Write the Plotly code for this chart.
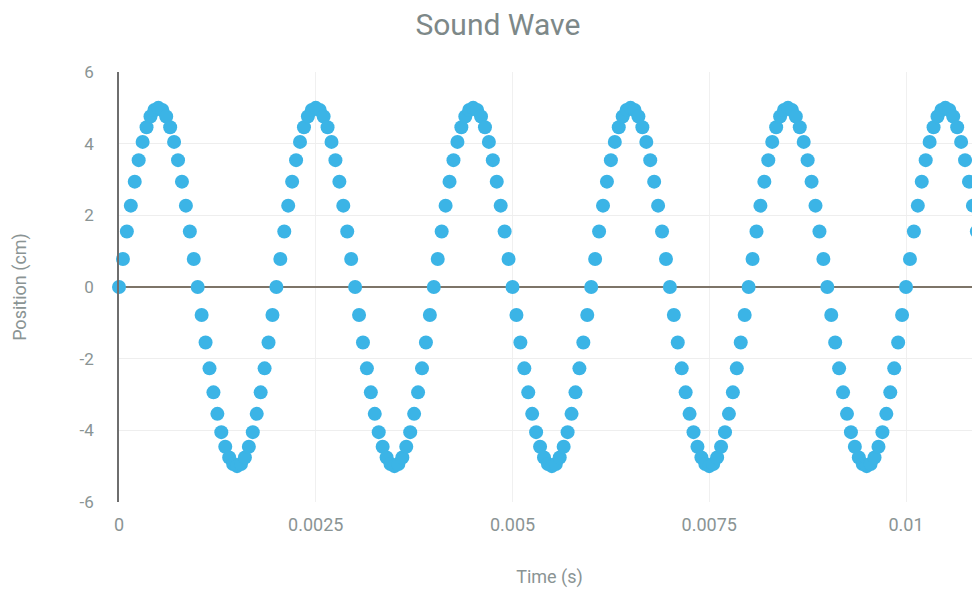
import plotly.graph_objects as go

# Time in milliseconds (sampled every 0.05 ms), converted to seconds below
time_ms = [
    0.00, 0.05, 0.10, 0.15, 0.20, 0.25, 0.30, 0.35, 0.40, 0.45, 0.50, 0.55, 0.60, 0.65, 0.70, 0.75, 0.80, 0.85, 0.90, 0.95,
    1.00, 1.05, 1.10, 1.15, 1.20, 1.25, 1.30, 1.35, 1.40, 1.45, 1.50, 1.55, 1.60, 1.65, 1.70, 1.75, 1.80, 1.85, 1.90, 1.95,
    2.00, 2.05, 2.10, 2.15, 2.20, 2.25, 2.30, 2.35, 2.40, 2.45, 2.50, 2.55, 2.60, 2.65, 2.70, 2.75, 2.80, 2.85, 2.90, 2.95,
    3.00, 3.05, 3.10, 3.15, 3.20, 3.25, 3.30, 3.35, 3.40, 3.45, 3.50, 3.55, 3.60, 3.65, 3.70, 3.75, 3.80, 3.85, 3.90, 3.95,
    4.00, 4.05, 4.10, 4.15, 4.20, 4.25, 4.30, 4.35, 4.40, 4.45, 4.50, 4.55, 4.60, 4.65, 4.70, 4.75, 4.80, 4.85, 4.90, 4.95,
    5.00, 5.05, 5.10, 5.15, 5.20, 5.25, 5.30, 5.35, 5.40, 5.45, 5.50, 5.55, 5.60, 5.65, 5.70, 5.75, 5.80, 5.85, 5.90, 5.95,
    6.00, 6.05, 6.10, 6.15, 6.20, 6.25, 6.30, 6.35, 6.40, 6.45, 6.50, 6.55, 6.60, 6.65, 6.70, 6.75, 6.80, 6.85, 6.90, 6.95,
    7.00, 7.05, 7.10, 7.15, 7.20, 7.25, 7.30, 7.35, 7.40, 7.45, 7.50, 7.55, 7.60, 7.65, 7.70, 7.75, 7.80, 7.85, 7.90, 7.95,
    8.00, 8.05, 8.10, 8.15, 8.20, 8.25, 8.30, 8.35, 8.40, 8.45, 8.50, 8.55, 8.60, 8.65, 8.70, 8.75, 8.80, 8.85, 8.90, 8.95,
    9.00, 9.05, 9.10, 9.15, 9.20, 9.25, 9.30, 9.35, 9.40, 9.45, 9.50, 9.55, 9.60, 9.65, 9.70, 9.75, 9.80, 9.85, 9.90, 9.95,
    10.00, 10.05, 10.10, 10.15, 10.20, 10.25, 10.30, 10.35, 10.40, 10.45, 10.50, 10.55, 10.60, 10.65, 10.70, 10.75, 10.80, 10.85, 10.90,
]

# Position (cm)
position_cm = [
    0, 0.78, 1.55, 2.27, 2.94, 3.54, 4.05, 4.46, 4.76, 4.94, 5, 4.94, 4.76, 4.46, 4.05, 3.54, 2.94, 2.27, 1.55, 0.78,
    0, -0.78, -1.55, -2.27, -2.94, -3.54, -4.05, -4.46, -4.76, -4.94, -5, -4.94, -4.76, -4.46, -4.05, -3.54, -2.94, -2.27, -1.55, -0.78,
    0, 0.78, 1.55, 2.27, 2.94, 3.54, 4.05, 4.46, 4.76, 4.94, 5, 4.94, 4.76, 4.46, 4.05, 3.54, 2.94, 2.27, 1.55, 0.78,
    0, -0.78, -1.55, -2.27, -2.94, -3.54, -4.05, -4.46, -4.76, -4.94, -5, -4.94, -4.76, -4.46, -4.05, -3.54, -2.94, -2.27, -1.55, -0.78,
    0, 0.78, 1.55, 2.27, 2.94, 3.54, 4.05, 4.46, 4.76, 4.94, 5, 4.94, 4.76, 4.46, 4.05, 3.54, 2.94, 2.27, 1.55, 0.78,
    0, -0.78, -1.55, -2.27, -2.94, -3.54, -4.05, -4.46, -4.76, -4.94, -5, -4.94, -4.76, -4.46, -4.05, -3.54, -2.94, -2.27, -1.55, -0.78,
    0, 0.78, 1.55, 2.27, 2.94, 3.54, 4.05, 4.46, 4.76, 4.94, 5, 4.94, 4.76, 4.46, 4.05, 3.54, 2.94, 2.27, 1.55, 0.78,
    0, -0.78, -1.55, -2.27, -2.94, -3.54, -4.05, -4.46, -4.76, -4.94, -5, -4.94, -4.76, -4.46, -4.05, -3.54, -2.94, -2.27, -1.55, -0.78,
    0, 0.78, 1.55, 2.27, 2.94, 3.54, 4.05, 4.46, 4.76, 4.94, 5, 4.94, 4.76, 4.46, 4.05, 3.54, 2.94, 2.27, 1.55, 0.78,
    0, -0.78, -1.55, -2.27, -2.94, -3.54, -4.05, -4.46, -4.76, -4.94, -5, -4.94, -4.76, -4.46, -4.05, -3.54, -2.94, -2.27, -1.55, -0.78,
    0, 0.78, 1.55, 2.27, 2.94, 3.54, 4.05, 4.46, 4.76, 4.94, 5, 4.94, 4.76, 4.46, 4.05, 3.54, 2.94, 2.27, 1.55,
]

x_tick_vals = [0, 0.0025, 0.005, 0.0075, 0.01]
x_tick_text = ["0", "0.0025", "0.005", "0.0075", "0.01"]
y_tick_vals = [-6, -4, -2, 0, 2, 4, 6]
y_tick_text = ["-6", "-4", "-2", "0", "2", "4", "6"]

time_s = [t / 1000 for t in time_ms]

TEXT = "#8a9494"

fig = go.Figure()
fig.add_trace(go.Scatter(
    x=time_s, y=position_cm, mode="markers",
    marker=dict(color="#3bb4e6", size=14, line=dict(width=0)),
    cliponaxis=False, showlegend=False,
))

fig.update_layout(
    width=972, height=582,
    paper_bgcolor="white", plot_bgcolor="white",
    margin=dict(l=111, r=0, t=64, b=88, autoexpand=False),
    font=dict(family="Roboto, Arial, sans-serif", color=TEXT, size=17),
    title=dict(text="Sound Wave", x=0.504, xanchor="center", y=0.972, yanchor="middle",
               font=dict(size=30, color="#7d8888", family="Roboto, Arial, sans-serif")),
)
fig.update_xaxes(
    range=[0, 0.01094], tickvals=x_tick_vals, ticktext=x_tick_text,
    showgrid=True, gridcolor="#f0f0f0", zeroline=False, showline=False,
    ticks="", ticklabelstandoff=10, automargin=False,
    tickfont=dict(size=18, color=TEXT),
    title=dict(text="Time (s)", standoff=36, font=dict(size=18, color=TEXT)),
)
fig.update_yaxes(
    range=[-6, 6], tickvals=y_tick_vals, ticktext=y_tick_text,
    showgrid=True, gridcolor="#eeeeee", zeroline=True, zerolinecolor="#7d7468", zerolinewidth=1.5,
    showline=True, linecolor="#6e6e6e", linewidth=1.6,
    ticks="", ticklabelstandoff=20, automargin=False,
    tickfont=dict(size=17, color=TEXT),
    title=dict(text="Position (cm)", standoff=48, font=dict(size=18, color=TEXT)),
)

fig.write_html("out.html")
